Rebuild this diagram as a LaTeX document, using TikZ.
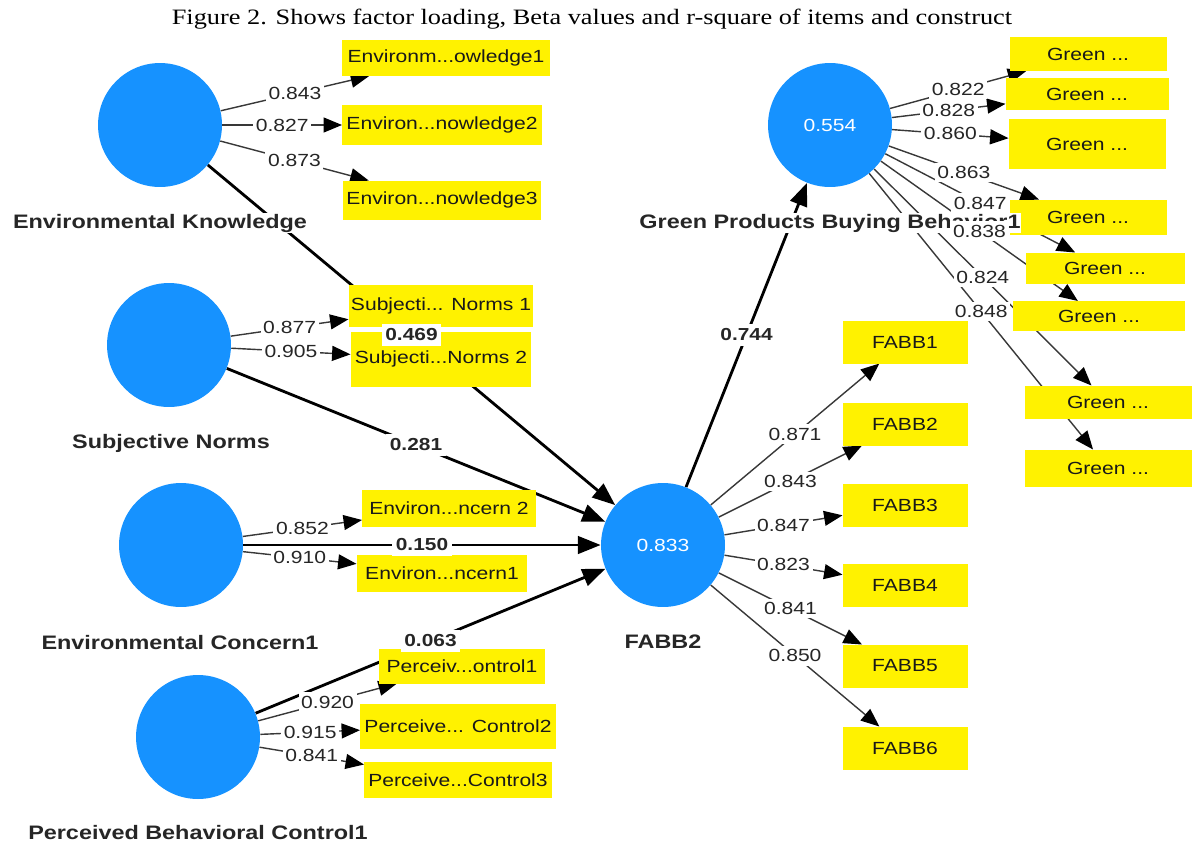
\documentclass[tikz,border=0pt]{standalone}
\usepackage{fontspec}
\usetikzlibrary{arrows.meta}
\newfontfamily\plsfont[FakeStretch=1.2]{Liberation Sans}
\newfontfamily\capfont[FakeStretch=1.2]{Liberation Serif}
\definecolor{lvblue}{RGB}{22,146,255}
\pgfdeclarelayer{back}
\pgfsetlayers{back,main}

\begin{document}
\begin{tikzpicture}[x=0.02cm, y=-0.02cm,
  lv/.style={circle, fill=lvblue, minimum size=2.48cm, inner sep=0pt, text=white, font=\plsfont\fontsize{10}{12}\selectfont},
  lvname/.style={fill=white, inner sep=0.5pt, font=\plsfont\bfseries\fontsize{11.1}{13}\selectfont, text=black!85},
  item/.style={fill=yellow, inner sep=0pt, outer sep=0pt, font=\plsfont\fontsize{10}{12}\selectfont, text=black!90},
  load/.style={-{Triangle[length=10.5pt, width=8.5pt, color=black]}, line width=0.8pt, draw=black!78},
  struct/.style={-{Triangle[length=13pt, width=10pt]}, line width=1.6pt, draw=black},
  val/.style={fill=white, inner xsep=1.5pt, inner ysep=2pt, font=\plsfont\fontsize{10}{12}\selectfont, text=black!85},
  coef/.style={val, inner xsep=2pt, inner ysep=3pt, font=\plsfont\bfseries\fontsize{9.9}{12}\selectfont}
]
\useasboundingbox (0,0) rectangle (1192,845);
\node[font=\capfont\fontsize{12.5}{15}\selectfont] (title) at (592,19) {Figure 2. Shows factor loading, Beta values and r-square of items and construct};

% constructs
\node[lv] (ek) at (160,125) {};
\node[lv] (sn) at (169,345) {};
\node[lv] (ec) at (181,545) {};
\node[lv] (pbc) at (198,737) {};
\node[lv] (fabb) at (663,545) {0.833};
\node[lv] (gpbb) at (830,125) {0.554};

% indicators
\node[item, minimum width=4.16cm, minimum height=0.72cm] (ek1) at (446,58) {Environm...owledge1};
\node[item, minimum width=4.00cm, minimum height=0.80cm] (ek2) at (442,125) {Environ...nowledge2};
\node[item, minimum width=3.98cm, minimum height=0.78cm] (ek3) at (442,200) {Environ...nowledge3};
\node[item, minimum width=3.70cm, minimum height=0.84cm] (sn1) at (441,306) {Subjecti... Norms 1};
\node[item, minimum width=3.62cm, minimum height=1.10cm] (sn2) at (441,359) {Subjecti...Norms 2};
\node[item, minimum width=3.48cm, minimum height=0.74cm] (ec2) at (449,508) {Environ...ncern 2};
\node[item, minimum width=3.42cm, minimum height=0.74cm] (ec1) at (442,573) {Environ...ncern1};
\node[item, minimum width=3.34cm, minimum height=0.70cm] (pbc1) at (462,666) {Perceiv...ontrol1};
\node[item, minimum width=3.92cm, minimum height=0.90cm] (pbc2) at (458,726) {Perceive... Control2};
\node[item, minimum width=3.76cm, minimum height=0.72cm] (pbc3) at (458,780) {Perceive...Control3};
\node[item, minimum width=2.50cm, minimum height=0.86cm] (fb1) at (905,342) {FABB1};
\node[item, minimum width=2.50cm, minimum height=0.86cm] (fb2) at (905,424) {FABB2};
\node[item, minimum width=2.50cm, minimum height=0.86cm] (fb3) at (905,505) {FABB3};
\node[item, minimum width=2.50cm, minimum height=0.86cm] (fb4) at (905,585) {FABB4};
\node[item, minimum width=2.50cm, minimum height=0.86cm] (fb5) at (905,666) {FABB5};
\node[item, minimum width=2.50cm, minimum height=0.86cm] (fb6) at (905,748) {FABB6};
\node[item, minimum width=3.14cm, minimum height=0.68cm] (gp1) at (1088,54) {Green ...};
\node[item, minimum width=3.26cm, minimum height=0.64cm] (gp2) at (1087,94) {Green ...};
\node[item, minimum width=3.14cm, minimum height=1.00cm] (gp3) at (1087,144) {Green ...};
\node[item, minimum width=3.14cm, minimum height=0.70cm] (gp4) at (1088,217) {Green ...};
\node[item, minimum width=3.18cm, minimum height=0.62cm] (gp5) at (1105,268) {Green ...};
\node[item, minimum width=3.44cm, minimum height=0.60cm] (gp6) at (1099,316) {Green ...};
\node[item, minimum width=3.34cm, minimum height=0.66cm] (gp7) at (1108,402) {Green ...};
\node[item, minimum width=3.34cm, minimum height=0.74cm] (gp8) at (1108,468) {Green ...};

% connectors, kept under the boxes and names
\begin{pgfonlayer}{back}
\draw[struct] (ek) -- (fabb);
\draw[struct] (sn) -- (fabb);
\draw[struct] (ec) -- (fabb);
\draw[struct] (pbc) -- (fabb);
\draw[struct] (fabb) -- (gpbb);
\draw[load] (ek) -- (ek1);
\draw[load] (ek) -- (ek2);
\draw[load] (ek) -- (ek3);
\draw[load] (sn) -- (sn1);
\draw[load] (sn) -- (sn2);
\draw[load] (ec) -- (ec2);
\draw[load] (ec) -- (ec1);
\draw[load] (pbc) -- (pbc1);
\draw[load] (pbc) -- (pbc2);
\draw[load] (pbc) -- (pbc3);
\draw[load] (fabb) -- (fb1);
\draw[load] (fabb) -- (fb2);
\draw[load] (fabb) -- (fb3);
\draw[load] (fabb) -- (fb4);
\draw[load] (fabb) -- (fb5);
\draw[load] (fabb) -- (fb6);
\draw[load] (gpbb) -- (gp1);
\draw[load] (gpbb) -- (gp2);
\draw[load] (gpbb) -- (gp3);
\draw[load] (gpbb) -- (gp4);
\draw[load] (gpbb) -- (gp5);
\draw[load] (gpbb) -- (gp6);
\draw[load] (gpbb) -- (gp7);
\draw[load] (gpbb) -- (gp8);
\end{pgfonlayer}

% construct names
\node[lvname] (ekname) at (160,223) {Environmental Knowledge};
\node[lvname] (snname) at (171,443) {Subjective Norms};
\node[lvname] (ecname) at (180,643) {Environmental Concern1};
\node[lvname] (pbcname) at (198,833) {Perceived Behavioral Control1};
\node[lvname] (fabbname) at (663,642) {FABB2};
\node[lvname] (gpbbname) at (830,223) {Green Products Buying Behavior1};

% loadings
\path (ek) -- node[val] {0.843} (ek1);
\path (ek) -- node[val] {0.827} (ek2);
\path (ek) -- node[val] {0.873} (ek3);
\path (sn) -- node[val] {0.877} (sn1);
\path (sn) -- node[val] {0.905} (sn2);
\path (ec) -- node[val] {0.852} (ec2);
\path (ec) -- node[val] {0.910} (ec1);
\path (pbc) -- node[val] {0.920} (pbc1);
\path (pbc) -- node[val] {0.915} (pbc2);
\path (pbc) -- node[val] {0.841} (pbc3);
\path (fabb) -- node[val] {0.871} (fb1);
\path (fabb) -- node[val] {0.843} (fb2);
\path (fabb) -- node[val] {0.847} (fb3);
\path (fabb) -- node[val] {0.823} (fb4);
\path (fabb) -- node[val] {0.841} (fb5);
\path (fabb) -- node[val] {0.850} (fb6);
\path (gpbb) -- node[val] {0.822} (gp1);
\path (gpbb) -- node[val] {0.828} (gp2);
\path (gpbb) -- node[val] {0.860} (gp3);
\path (gpbb) -- node[val] {0.863} (gp4);
\path (gpbb) -- node[val] {0.847} (gp5);
\path (gpbb) -- node[val] {0.838} (gp6);
\path (gpbb) -- node[val] {0.824} (gp7);
\path (gpbb) -- node[val] {0.848} (gp8);

% path coefficients
\path (ek) -- node[coef] {0.469} (fabb);
\path (sn) -- node[coef] {0.281} (fabb);
\path (ec) -- node[coef] {0.150} (fabb);
\path (pbc) -- node[coef] {0.063} (fabb);
\path (fabb) -- node[coef] {0.744} (gpbb);
\end{tikzpicture}
\end{document}
